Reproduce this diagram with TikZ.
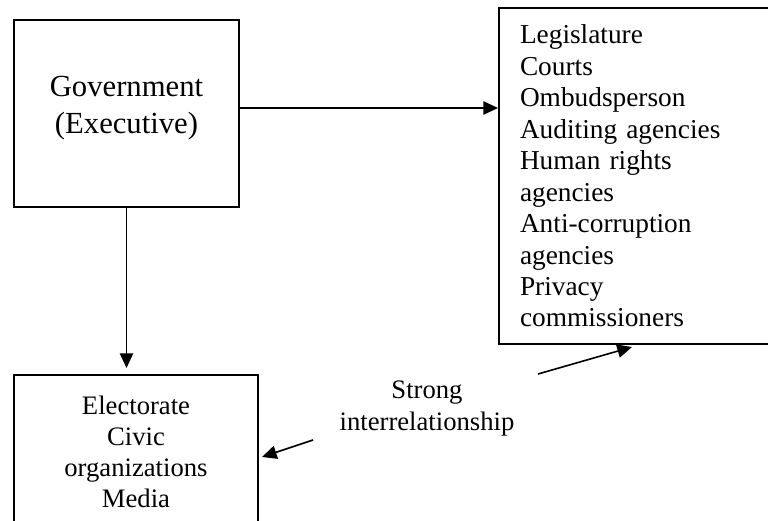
\documentclass[tikz,border=0pt]{standalone}
\usepackage{fontspec}
\setmainfont{Liberation Serif}
\usetikzlibrary{arrows.meta,calc}

\begin{document}
\begin{tikzpicture}[x=0.75pt,y=-0.75pt,
		box/.style={draw,line width=1.5pt,inner sep=0pt},
		link/.style={line width=1.2pt,-{Triangle[length=11pt,width=10pt]}}]
			\useasboundingbox(0,0)rectangle(768,521);
			\clip(0,0)rectangle(768,521);
			\node[box,anchor=north west,minimum width=168.75pt,minimum height=140.25pt,align=center,
				font=\fontsize{23}{27.75}\selectfont](gov)at(13,19){Government\\(Executive)\rule[-13pt]{0pt}{0pt}};
			\node[box,anchor=north west,minimum height=252pt,inner xsep=15.75pt,text width=187.5pt,align=left,
				font=\fontsize{20.5}{23.6}\selectfont](checks)at(498,7){Legislature\\Courts\\Ombudsperson\\Auditing agencies\\Human rights\\agencies\\Anti-corruption\\agencies\\Privacy\\commissioners};
			\node[box,anchor=north west,minimum width=183pt,minimum height=115.5pt,align=center,
				font=\fontsize{20}{23.25}\selectfont](publics)at(13,374){Electorate\\Civic\\organizations\\Media};
			\node[align=center,font=\fontsize{20}{24}\selectfont](rel)at(427,409){Strong\\interrelationship};
			\coordinate(relR)at(538,374);
			\coordinate(relL)at(313,440);
			\draw[link](gov.east|-0,108)--(checks.west|-0,108);
			\draw[link](gov.south)--($(publics.north-|gov.south)+(0,-6)$);
			\draw[link](relR)--($(checks.south west)+(134,2)$);
			\draw[link](relL)--($(publics.east)+(3,5)$);
		\end{tikzpicture}
\end{document}
